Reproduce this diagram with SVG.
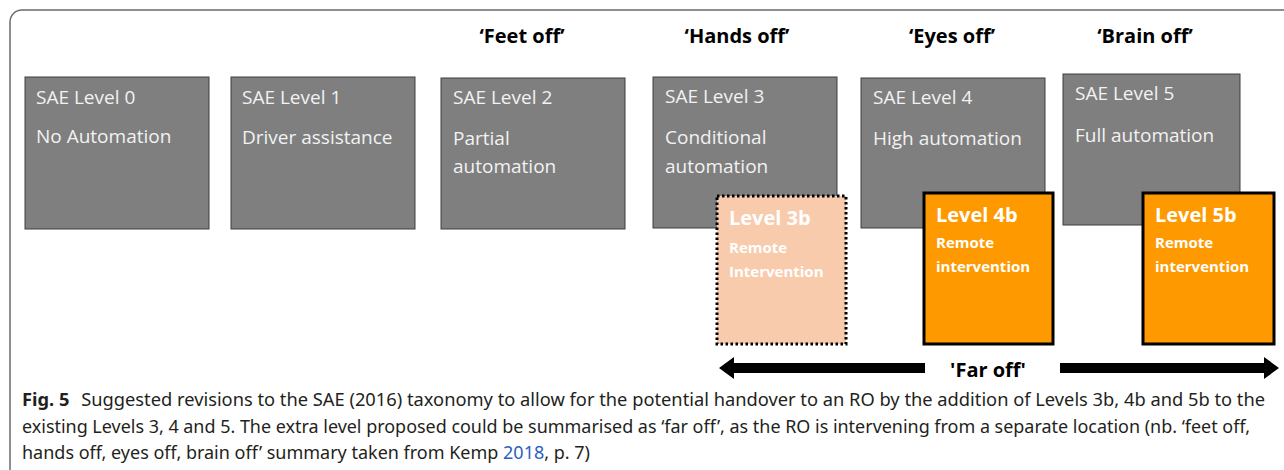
<svg xmlns="http://www.w3.org/2000/svg" width="1284" height="470" viewBox="0 0 1284 470">
<style>
.frame{fill:none;stroke:#6b6b6b;stroke-width:1.5}
.sae{fill:#7f7f7f;stroke:#3f3f3f;stroke-width:1}
.st{font-family:"Open Sans","Noto Sans",sans-serif;font-size:19px;fill:#f2f2f2}
.hd{font-family:"Open Sans","Noto Sans",sans-serif;font-size:20px;font-weight:bold;fill:#000;text-anchor:middle}
.rb{fill:#ff9900;stroke:#000;stroke-width:3}
.r3{fill:#f8cbad;stroke:#000;stroke-width:3;stroke-dasharray:2.5 2.5}
.bt{font-family:"Open Sans","Noto Sans",sans-serif;font-weight:bold;fill:#fff}
.t1{font-size:20px}
.t2{font-size:15px}
.arr{fill:#000}
.cap{font-family:"Noto Sans","Open Sans",sans-serif;font-size:18px;fill:#231f20}
</style>
<path class="frame" d="M10,470 V22 A12,12 0 0 1 22,10 H1284"/>
<g id="headers">
<text class="hd" x="522" y="43">‘Feet off’</text>
<text class="hd" x="737" y="43">‘Hands off’</text>
<text class="hd" x="952" y="43">‘Eyes off’</text>
<text class="hd" x="1145" y="43">‘Brain off’</text>
</g>
<g id="sae0">
<rect class="sae" x="25" y="77" width="184" height="152"/>
<text class="st" x="36" y="104">SAE Level 0</text>
<text class="st" x="36" y="143">No Automation</text>
</g>
<g id="sae1">
<rect class="sae" x="231" y="77" width="184" height="152"/>
<text class="st" x="242" y="104">SAE Level 1</text>
<text class="st" x="242" y="144">Driver assistance</text>
</g>
<g id="sae2">
<rect class="sae" x="441" y="78" width="184" height="151"/>
<text class="st" x="453" y="104">SAE Level 2</text>
<text class="st" x="453" y="145">Partial</text>
<text class="st" x="453" y="173">automation</text>
</g>
<g id="sae3">
<rect class="sae" x="653" y="77" width="184" height="151"/>
<text class="st" x="665" y="103">SAE Level 3</text>
<text class="st" x="665" y="144">Conditional</text>
<text class="st" x="665" y="173">automation</text>
</g>
<g id="sae4">
<rect class="sae" x="861" y="78" width="184" height="150"/>
<text class="st" x="873" y="104">SAE Level 4</text>
<text class="st" x="873" y="145">High automation</text>
</g>
<g id="sae5">
<rect class="sae" x="1063" y="74" width="177" height="151"/>
<text class="st" x="1075" y="100">SAE Level 5</text>
<text class="st" x="1075" y="142">Full automation</text>
</g>
<g id="level3b">
<rect class="r3" x="717" y="196" width="129" height="148"/>
<text class="bt t1" x="729" y="225">Level 3b</text>
<text class="bt t2" x="729" y="253">Remote</text>
<text class="bt t2" x="729" y="277">Intervention</text>
</g>
<g id="level4b">
<rect class="rb" x="924" y="193" width="129" height="151"/>
<text class="bt t1" x="936" y="222">Level 4b</text>
<text class="bt t2" x="936" y="248">Remote</text>
<text class="bt t2" x="936" y="272">intervention</text>
</g>
<g id="level5b">
<rect class="rb" x="1143" y="193" width="131" height="151"/>
<text class="bt t1" x="1155" y="222">Level 5b</text>
<text class="bt t2" x="1155" y="248">Remote</text>
<text class="bt t2" x="1155" y="272">intervention</text>
</g>
<g id="connectors">
<polygon class="arr" points="719,368 734,357 734,363 925,363 925,373 734,373 734,379"/>
<polygon class="arr" points="1060,363 1264,363 1264,357 1279,368 1264,379 1264,373 1060,373"/>
</g>
<g id="faroff">
<text class="hd" x="988" y="377">'Far off'</text>
</g>
<g id="caption">
<text class="cap" x="22" y="406" textLength="1243" lengthAdjust="spacingAndGlyphs"><tspan font-weight="bold">Fig. 5</tspan><tspan dx="7"> Suggested revisions to the SAE (2016) taxonomy to allow for the potential handover to an RO by the addition of Levels 3b, 4b and 5b to the</tspan></text>
<text class="cap" x="22" y="433" textLength="1228" lengthAdjust="spacingAndGlyphs">existing Levels 3, 4 and 5. The extra level proposed could be summarised as ‘far off’, as the RO is intervening from a separate location (nb. ‘feet off,</text>
<text class="cap" x="22" y="459" textLength="568" lengthAdjust="spacingAndGlyphs">hands off, eyes off, brain off’ summary taken from Kemp <tspan fill="#2b5fbf">2018</tspan>, p. 7)</text>
</g>
</svg>
